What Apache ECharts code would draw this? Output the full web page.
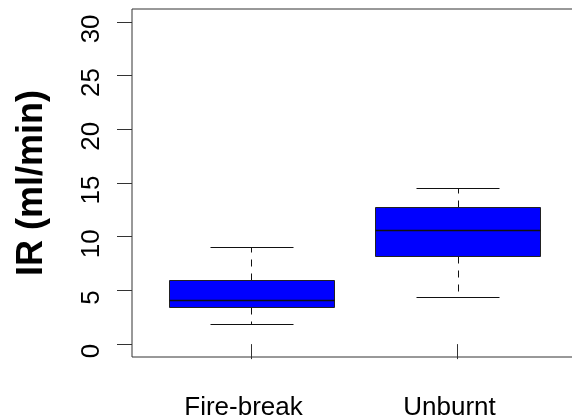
<!DOCTYPE html>
<html>
<head>
<meta charset="utf-8">
<script src="https://cdn.jsdelivr.net/npm/echarts@6/dist/echarts.min.js"></script>
<style>
html,body{margin:0;padding:0;background:#fff;}
#chart{width:572px;height:418px;}
</style>
</head>
<body>
<div id="chart"></div>
<script>
// ---- data ----
const categories = ['Fire-break', 'Unburnt'];
const whiskerLow  = [1.86, 4.37];
const quartile1   = [3.44, 8.24];
const medians     = [4.15, 10.62];
const quartile3   = [5.98, 12.80];
const whiskerHigh = [9.01, 14.56];
const yTicks = [0, 5, 10, 15, 20, 25, 30];
const yTitle = 'IR (ml/min)';

const boxData = categories.map((c, i) => [i + 1, whiskerLow[i], quartile1[i], medians[i], quartile3[i], whiskerHigh[i]]);
const xTicks = categories.map((c, i) => i + 1);

const FONT = 'Liberation Sans, Arial, Helvetica, sans-serif';
const chart = echarts.init(document.getElementById('chart'), null, {renderer: 'canvas'});

function r(v) { return Math.round(v) + 0.5; }

chart.setOption({
  animation: false,
  backgroundColor: '#ffffff',
  grid: {
    left: 132, top: 9, right: -5, bottom: 61,
    outerBoundsMode: 'none',
    containLabel: false,
    show: true, borderColor: '#333', borderWidth: 1, backgroundColor: 'transparent'
  },
  xAxis: {
    type: 'value',
    min: 0.42, max: 2.58,
    splitLine: {show: false},
    axisLine: {show: false},
    axisTick: {show: true, customValues: xTicks, length: 15, inside: false, lineStyle: {color: '#333', width: 1}},
    axisLabel: {
      customValues: xTicks,
      formatter: v => categories[Math.round(v) - 1] || '',
      fontFamily: FONT, fontSize: 26, color: '#000', margin: 38,
      padding: [0, 16, 0, 0]
    }
  },
  yAxis: {
    type: 'value',
    min: -1.2, max: 31.2,
    splitLine: {show: false},
    axisLine: {show: false},
    axisTick: {show: true, customValues: yTicks, length: 15, lineStyle: {color: '#333', width: 1}},
    axisLabel: {
      customValues: yTicks,
      rotate: 90,
      fontFamily: FONT, fontSize: 26, color: '#000', margin: 27,
      padding: [0, 14, 0, 0]
    },
    name: yTitle,
    nameLocation: 'middle',
    nameGap: 82,
    nameRotate: 90,
    nameTextStyle: {fontFamily: FONT, fontSize: 36, fontWeight: 'bold', color: '#000'}
  },
  series: [{
    type: 'custom',
    data: boxData,
    encode: {x: 0, y: [1, 2, 3, 4, 5]},
    renderItem: function (params, api) {
      const x = api.value(0);
      const lo = api.value(1), q1 = api.value(2), med = api.value(3), q3 = api.value(4), hi = api.value(5);
      const boxW = api.size([0.8, 0])[0];
      const capW = boxW / 2;
      const cx = api.coord([x, 0])[0];
      const yLo = api.coord([x, lo])[1], yQ1 = api.coord([x, q1])[1], yMed = api.coord([x, med])[1];
      const yQ3 = api.coord([x, q3])[1], yHi = api.coord([x, hi])[1];
      const line = (x1, y1, x2, y2, dash, w) => ({
        type: 'line',
        shape: {x1: x1, y1: y1, x2: x2, y2: y2},
        style: {stroke: '#111', lineWidth: w || 1, lineDash: dash || null}
      });
      const X = r(cx);
      return {
        type: 'group',
        children: [
          line(X, r(yQ1), X, r(yLo), [7, 7]),
          line(X, r(yQ3), X, r(yHi), [7, 7]),
          line(r(cx - capW / 2), r(yLo), r(cx + capW / 2), r(yLo)),
          line(r(cx - capW / 2), r(yHi), r(cx + capW / 2), r(yHi)),
          {
            type: 'rect',
            shape: {x: r(cx - boxW / 2), y: r(yQ3), width: Math.round(boxW), height: Math.round(yQ1 - yQ3)},
            style: {fill: '#0000FF', stroke: '#222', lineWidth: 1}
          },
          line(r(cx - boxW / 2), r(yMed), r(cx + boxW / 2), r(yMed), null, 1.5)
        ]
      };
    }
  }]
});
</script>
</body>
</html>
